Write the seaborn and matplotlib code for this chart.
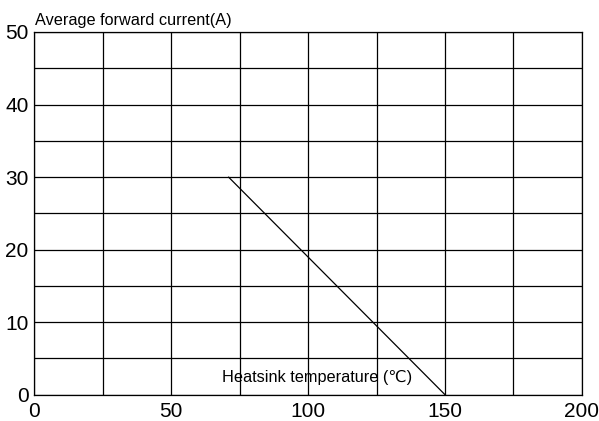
import numpy as np
import pandas as pd
import matplotlib
matplotlib.use("Agg")
import matplotlib.pyplot as plt
import seaborn as sns

# derating curve
heatsink_temp = [71, 150]
avg_current = [30, 0]

x_ticks = [0, 50, 100, 150, 200]
y_ticks = [0, 10, 20, 30, 40, 50]

sns.set_style("white")
plt.rcParams['font.family'] = ['Liberation Sans', 'DejaVu Sans', 'Noto Sans CJK SC']
plt.rcParams['text.color'] = 'black'
plt.rcParams['xtick.color'] = 'black'
plt.rcParams['ytick.color'] = 'black'

df = pd.DataFrame({"temp": heatsink_temp, "current": avg_current})

fig = plt.figure(figsize=(5.99, 4.21), dpi=100)
ax = fig.add_axes([0.0568, 0.0625, 0.9148, 0.8615])

sns.lineplot(data=df, x="temp", y="current", color="black", linewidth=0.9, ax=ax)

ax.set_xlim(0, 200)
ax.set_ylim(0, 50)
ax.set_xticks(np.arange(0, 201, 25), minor=True)
ax.set_yticks(np.arange(0, 51, 5), minor=True)
ax.set_xticks(x_ticks)
ax.set_yticks(y_ticks)
ax.set_xticklabels([str(v) for v in x_ticks], fontsize=15)
ax.set_yticklabels([str(v) for v in y_ticks], fontsize=15)
ax.tick_params(which="both", length=0)
ax.tick_params(axis="x", pad=5)
ax.tick_params(axis="y", pad=4)
ax.grid(True, which="both", color="black", linewidth=0.9)
ax.set_axisbelow(True)
for s in ax.spines.values():
    s.set_color("black")
    s.set_linewidth(0.9)

ax.set_xlabel("")
ax.set_ylabel("")
fig.text(0.059, 0.94, "Average forward current(A)", fontsize=11.7, ha="left", va="baseline")
ax.text(68.5, 1.75, "Heatsink temperature (℃)", fontsize=11.7, ha="left", va="baseline")

fig.savefig("out.png", dpi=100)
